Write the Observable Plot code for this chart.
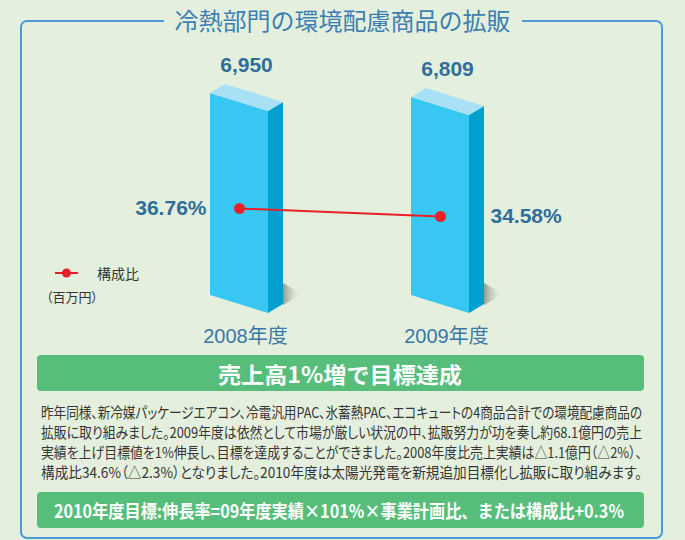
<!DOCTYPE html>
<html><head><meta charset="utf-8">
<script src="https://cdn.jsdelivr.net/npm/d3@7"></script>
<script src="https://cdn.jsdelivr.net/npm/@observablehq/plot@0.6"></script>
<style>
body{margin:0;background:#e4f0dd;}
#root{position:relative;width:685px;height:540px;overflow:hidden;background:#e4f0dd;font-family:"Noto Sans CJK JP","Noto Sans",sans-serif;}
.frame{position:absolute;left:20px;top:20px;width:639px;height:515px;border:2px solid #4a9bd8;border-radius:7px;}
.title{position:absolute;left:0;top:5px;width:685px;text-align:center;font-size:24px;line-height:30px;color:#3d7fb2;}
.title span{background:#e4f0dd;padding:0 11px;}
.layer{position:absolute;left:0;top:0;}
.legend{position:absolute;left:0;top:0;}
.lgtext{position:absolute;font-size:14px;color:#333;line-height:18px;}
.unit{position:absolute;font-size:13px;color:#333;line-height:18px;font-feature-settings:"palt";}
.banner{position:absolute;left:37px;width:607px;height:36px;background:#56be7a;border-radius:4px;color:#fff;font-weight:bold;line-height:36px;white-space:nowrap;}
.pline{position:absolute;left:41px;height:20px;line-height:20px;font-size:15px;color:#363636;white-space:nowrap;font-feature-settings:"palt";}
.fit{display:inline-block;white-space:nowrap;position:absolute;top:0;left:0;}
</style>
</head><body>
<div id="root">
  <div class="frame"></div>
  <div class="title"><span>冷熱部門の環境配慮商品の拡販</span></div>
  <div id="bars" class="layer"></div>
  <div id="line" class="layer"></div>
  <svg class="legend" width="120" height="300"><line x1="55" x2="78" y1="273" y2="273" stroke="#e8202a" stroke-width="2"/><circle cx="66.5" cy="273" r="4.5" fill="#e8202a"/></svg>
  <div class="lgtext" style="left:97px;top:264px;">構成比</div>
  <div class="unit" style="left:46px;top:288px;">（百万円）</div>
  <div class="banner" style="top:355px;font-size:22px;"><span class="fit" data-w="244" data-l="181">売上高1%増で目標達成</span></div>
  <div id="para"></div>
  <div class="banner" style="top:492px;font-size:18px;"><span class="fit" data-w="570" data-l="17">2010年度目標:伸長率=09年度実績×101%×事業計画比、または構成比+0.3%</span></div>
</div>
<script>
// ---- data ----
const years = ["2008年度", "2009年度"];
const sales = [6950, 6809];            // 百万円
const shares = [36.76, 34.58];         // 構成比 %
const salesLabels = ["6,950", "6,809"];
const shareLabels = ["36.76%", "34.58%"];
const paragraphLines = [
  "昨年同様、新冷媒パッケージエアコン、冷電汎用PAC、氷蓄熱PAC、エコキュートの4商品合計での環境配慮商品の",
  "拡販に取り組みました。2009年度は依然として市場が厳しい状況の中、拡販努力が功を奏し約68.1億円の売上",
  "実績を上げ目標値を1%伸長し、目標を達成することができました。2008年度比売上実績は△1.1億円（△2%）、",
  "構成比34.6%（△2.3%）となりました。2010年度は太陽光発電を新規追加目標化し拡販に取り組みます。"
];

const data = years.map((y, i) => ({year: y, sales: sales[i], share: shares[i], sl: salesLabels[i], pl: shareLabels[i]}));
const numFont = "Liberation Sans, Noto Sans CJK JP, sans-serif";
const W = 685, H = 350, ML = 67, MR = 73;

// 3D bar rendering through Plot scales
function bar3d(index, scales, values) {
  const bwRaw = scales.x.bandwidth;
  const bw = typeof bwRaw === "function" ? bwRaw() : bwRaw;
  const g = d3.create("svg:g");
  const grad = g.append("defs").append("linearGradient").attr("id", "shadowGrad").attr("x1", 0).attr("x2", 1).attr("y1", 0).attr("y2", 0);
  grad.append("stop").attr("offset", "0%").attr("stop-color", "#8f9a8f");
  grad.append("stop").attr("offset", "100%").attr("stop-color", "#e4f0dd").attr("stop-opacity", 0);
  const s = bw * 18 / 58, dx = 15, dy = -9;
  const poly = pts => "M" + pts.map(p => p.join(",")).join("L") + "Z";
  for (const i of index) {
    const x0 = values.x[i], x1 = x0 + bw;
    const yt = Math.min(values.y1[i], values.y2[i]);
    const yb = Math.max(values.y1[i], values.y2[i]);
    const sx = x1 + dx, sb = yb + s + dy;
    g.append("path").attr("d", poly([[sx, sb - 21], [sx + 19, sb - 10], [sx, sb + 1]])).attr("fill", "url(#shadowGrad)");
    g.append("path").attr("d", poly([[x0, yt], [x1, yt + s], [x1, yb + s], [x0, yb]])).attr("fill", "#38c6f2");
    g.append("path").attr("d", poly([[x1, yt + s], [sx, yt + s + dy], [sx, sb], [x1, yb + s]])).attr("fill", "#02a0cf");
    g.append("path").attr("d", poly([[x0, yt], [x1, yt + s], [sx, yt + s + dy], [x0 + dx, yt + dy]])).attr("fill", "#a8e0f6");
  }
  return g.node();
}

const barPlot = Plot.plot({
  width: W, height: H,
  marginLeft: ML, marginRight: MR, marginTop: 91.5, marginBottom: 55,
  style: {background: "transparent", overflow: "visible"},
  x: {type: "band", domain: years, padding: 0.71, label: null},
  y: {domain: [0, 7000], axis: null},
  marks: [
    Plot.barY(data, {x: "year", y: "sales", render: bar3d}),
    Plot.text(data, {x: "year", y: "sales", text: "sl", dy: -28, dx: 7, fontSize: 21, fontWeight: "bold", fill: "#2f6e9b", fontFamily: numFont}),
    Plot.axisX({tickSize: 0, tickPadding: 33, fontSize: 20, color: "#3b78a8", dx: 6, label: null, fontFamily: numFont})
  ]
});
document.getElementById("bars").appendChild(barPlot);

const linePlot = Plot.plot({
  width: W, height: H,
  marginLeft: ML, marginRight: MR, marginTop: 122.7, marginBottom: 80.5,
  style: {background: "transparent", overflow: "visible"},
  x: {type: "band", domain: years, padding: 0.71, axis: null},
  y: {domain: [20, 60], axis: null},
  marks: [
    Plot.line(data, {x: "year", y: "share", stroke: "#e8202a", strokeWidth: 2}),
    Plot.dot(data, {x: "year", y: "share", r: 5.5, fill: "#e8202a"}),
    Plot.text(data.slice(0, 1), {x: "year", y: "share", text: "pl", textAnchor: "end", dx: -33, fontSize: 21, fontWeight: "bold", fill: "#2f6e9b", fontFamily: numFont}),
    Plot.text(data.slice(1), {x: "year", y: "share", text: "pl", textAnchor: "start", dx: 50, fontSize: 21, fontWeight: "bold", fill: "#2f6e9b", fontFamily: numFont})
  ]
});
document.getElementById("line").appendChild(linePlot);

// paragraph
const para = document.getElementById("para");
paragraphLines.forEach((t, i) => {
  const d = document.createElement("div");
  d.className = "pline";
  d.style.top = (402 + i * 20) + "px";
  const sp = document.createElement("span");
  sp.className = "fit"; sp.dataset.w = "601"; sp.dataset.l = "0";
  sp.textContent = t;
  d.appendChild(sp);
  para.appendChild(d);
});

function fitAll() {
  document.querySelectorAll(".fit").forEach(el => {
    el.style.transform = "none";
    const w = el.getBoundingClientRect().width;
    const target = +el.dataset.w;
    el.style.left = el.dataset.l + "px";
    if (w > 0) {
      el.style.transformOrigin = "left center";
      el.style.transform = `scaleX(${target / w})`;
    }
  });
}
fitAll();
if (document.fonts && document.fonts.ready) document.fonts.ready.then(fitAll);
</script>
</body></html>
